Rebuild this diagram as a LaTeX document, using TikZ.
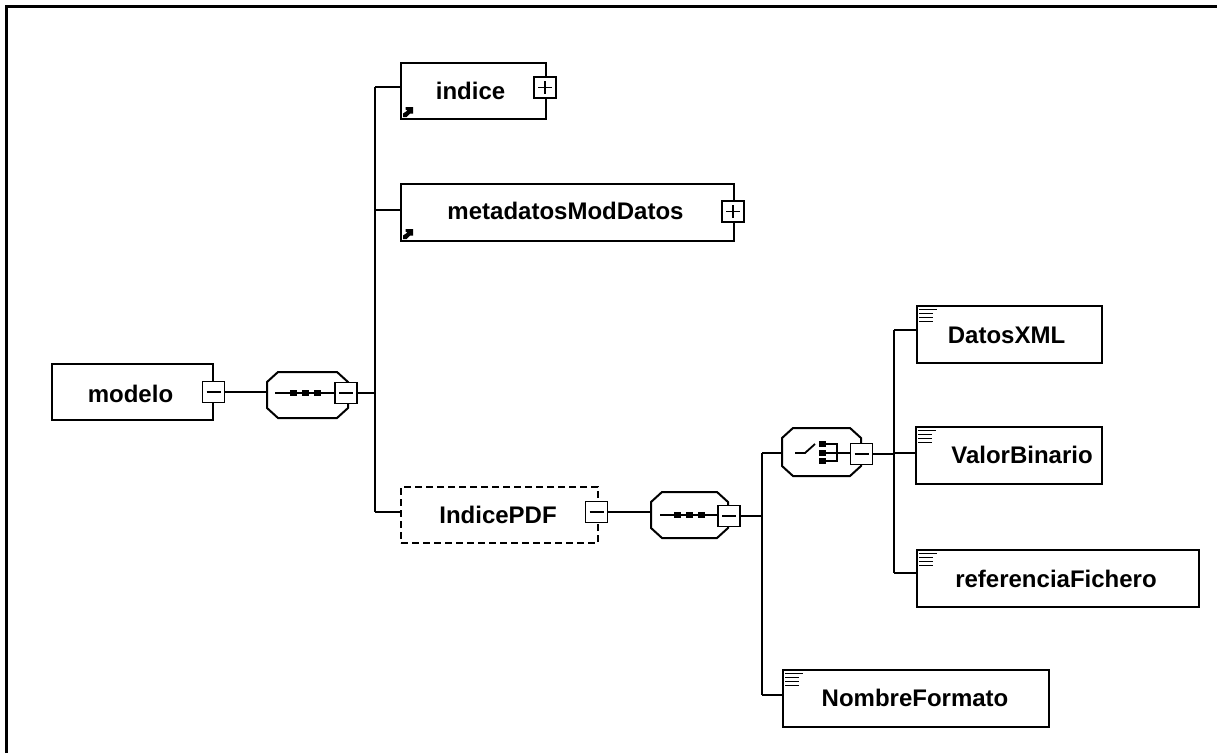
\documentclass[tikz,border=0pt]{standalone}
\usepackage{fontspec}
\setmainfont{Liberation Sans}
\usetikzlibrary{calc}

\begin{document}
\begin{tikzpicture}[x=1pt,y=-1pt, line width=2pt,
  elem/.style={draw, line width=2pt, inner sep=0pt},
  pm/.style={draw, fill=white, line width=1.7pt, minimum width=22pt, minimum height=21pt, inner sep=0pt},
  pmminus/.style={pm, path picture={\draw[line width=1.5pt] ([xshift=4pt]path picture bounding box.west) -- ([xshift=-4pt]path picture bounding box.east);}},
  pmplus/.style={pm, path picture={\draw[line width=1.5pt] ([xshift=4pt]path picture bounding box.west) -- ([xshift=-4pt]path picture bounding box.east);
      \draw[line width=1.5pt] ([yshift=-4pt]path picture bounding box.north) -- ([yshift=4pt]path picture bounding box.south);}},
  octbase/.style={inner sep=0pt},
  octline/.style={line width=2pt},
  lbl/.style={font=\bfseries\fontsize{24}{26}\selectfont, anchor=base, inner sep=0pt},
  conn/.style={line width=2pt},
  icon/.style={line width=1.8pt}]

\useasboundingbox (0,0) rectangle (1217,753);
\draw[line width=3pt] (6,753) -- (6,6) -- (1217,6);

% ---------- modelo ----------
\node[elem, minimum width=161pt, minimum height=56pt] (modelo) at (132.5,392) {};
\node[lbl] (tmodelo) at (130.5,402) {modelo};
\node[pmminus] (modelom) at (213.5,392) {};

% ---------- sequence 1 ----------
\node[octbase, minimum width=79pt, minimum height=44pt] (seq1) at (307.5,395) {};
\draw[icon] (275,393) -- (335,393);
\foreach \x in {293,305,317} \fill (\x-3.5,389.5) rectangle (\x+3.5,395.5);
\node[pmminus] (seq1m) at (346,393) {};
\draw[conn] (modelom.east) -- (modelom.east -| seq1.west);

% ---------- bus 1 ----------
\coordinate (b1top) at (375,87);
\coordinate (b1bot) at (375,512);
\draw[conn] (b1top) -- (b1bot);
\draw[conn] (seq1m.east) -- (seq1m.east -| b1top);

% ---------- indice ----------
\node[elem, minimum width=145pt, minimum height=56pt] (indice) at (473.5,91) {};
\node[lbl] (tindice) at (470.5,99) {indice};
\node[pmplus] (indicep) at (545,87.5) {};
\draw[conn] (b1top) -- (b1top -| indice.west);

% ---------- metadatosModDatos ----------
\node[elem, minimum width=333pt, minimum height=57pt] (meta) at (567.5,212.5) {};
\node[lbl] (tmeta) at (565.5,219) {metadatosModDatos};
\node[pmplus] (metap) at (733,211.5) {};
\draw[conn] (375,210) -- (375,210 -| meta.west);

% reference arrows
\foreach \n in {indice,meta} {
  \fill ($(\n.south west)+(3,-3)$) -- ($(\n.south west)+(6.5,-3)$) -- ($(\n.south west)+(10,-6.5)$) -- ($(\n.south west)+(13,-6.5)$) -- ($(\n.south west)+(13,-13)$) -- ($(\n.south west)+(5.5,-13)$) -- ($(\n.south west)+(5.5,-10.5)$) -- ($(\n.south west)+(7.5,-9.5)$) -- ($(\n.south west)+(3,-6.5)$) -- cycle;
}

% ---------- IndicePDF ----------
\node[elem, dash pattern=on 7pt off 4pt, minimum width=197pt, minimum height=56pt] (ipdf) at (499.5,515) {};
\node[lbl] (tipdf) at (498,523) {IndicePDF};
\node[pmminus] (ipdfm) at (596.5,512) {};
\draw[conn] (b1bot) -- (b1bot -| ipdf.west);

% ---------- sequence 2 ----------
\node[octbase, minimum width=75pt, minimum height=44pt] (seq2) at (689.5,515) {};
\draw[icon] (660,515) -- (718,515);
\foreach \x in {677,689,701} \fill (\x-3.5,511.5) rectangle (\x+3.5,517.5);
\node[pmminus] (seq2m) at (729,516) {};
\draw[conn] (ipdfm.east) -- (ipdfm.east -| seq2.west);

% ---------- bus 2 ----------
\coordinate (b2top) at (762,453);
\coordinate (b2bot) at (762,695);
\draw[conn] (b2top) -- (b2bot);
\draw[conn] (seq2m.east) -- (seq2m.east -| b2top);

% ---------- choice ----------
\node[octbase, minimum width=77pt, minimum height=46pt] (choice) at (821.5,452) {};
\draw[icon] (795,453) -- (805,453) -- (815,444);
\foreach \y in {444,452.5,461} \fill (818.5,\y-3) rectangle (825.5,\y+3);
\draw[icon] (825,444) -- (837,444) -- (837,461) -- (825,461);
\draw[icon] (825,453) -- (851,453);
\node[pmminus] (choicem) at (861.5,454) {};
\draw[conn] (b2top) -- (b2top -| choice.west);

% octagon outlines
\foreach \n in {seq1,seq2,choice} {
  \draw[octline] ($(\n.north west)+(11,0)$) -- ($(\n.north east)+(-11,0)$) -- ($(\n.north east)+(0,10)$) -- ($(\n.south east)+(0,-10)$) -- ($(\n.south east)+(-11,0)$) -- ($(\n.south west)+(11,0)$) -- ($(\n.south west)+(0,-10)$) -- ($(\n.north west)+(0,10)$) -- cycle;
}
% redraw -/+ boxes on top of octagon outlines
\node[pmminus] at (seq1m) {};
\node[pmminus] at (seq2m) {};
\node[pmminus] at (choicem) {};

% ---------- NombreFormato ----------
\node[elem, minimum width=266pt, minimum height=57pt] (nombre) at (916,698.5) {};
\node[lbl] (tnombre) at (915,706) {NombreFormato};
\draw[conn] (b2bot) -- (b2bot -| nombre.west);

% ---------- bus 3 ----------
\coordinate (b3top) at (894,330);
\coordinate (b3bot) at (894,573);
\draw[conn] (b3top) -- (b3bot);
\draw[conn] (choicem.east) -- (choicem.east -| b3top);

% ---------- DatosXML ----------
\node[elem, minimum width=185pt, minimum height=57pt] (datos) at (1009.5,334.5) {};
\node[lbl] (tdatos) at (1006.5,343) {DatosXML};
\draw[conn] (b3top) -- (b3top -| datos.west);

% ---------- ValorBinario ----------
\node[elem, minimum width=186pt, minimum height=57pt] (valor) at (1009,455.5) {};
\node[lbl] (tvalor) at (1022,463) {ValorBinario};
\draw[conn] (894,453) -- (894,453 -| valor.west);

% ---------- referenciaFichero ----------
\node[elem, minimum width=282pt, minimum height=57pt] (ref) at (1058,578.5) {};
\node[lbl] (tref) at (1056,587) {referenciaFichero};
\draw[conn] (b3bot) -- (b3bot -| ref.west);

% simple-type line icons
\foreach \n in {datos,valor,ref,nombre} {
  \draw[icon] ($(\n.north west)+(3,4.5)$) -- ++(18,0);
  \foreach \d in {8.5,12.5,16.5} \draw[icon] ($(\n.north west)+(3,\d)$) -- ++(14,0);
}

\end{tikzpicture}
\end{document}
